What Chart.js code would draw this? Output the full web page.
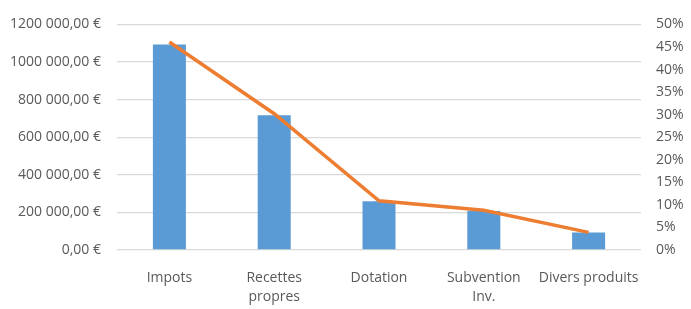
<!DOCTYPE html>
<html>
<head>
<meta charset="utf-8">
<script src="https://cdn.jsdelivr.net/npm/chart.js@4"></script>
<style>
  html, body { margin: 0; padding: 0; background: #fff; }
  #wrap { width: 691px; height: 309px; position: relative; }
</style>
</head>
<body>
<div id="wrap"><canvas id="c"></canvas></div>
<script>
// données
const categories = ['Impots', ['Recettes', 'propres'], 'Dotation', ['Subvention', 'Inv.'], 'Divers produits'];
const montants = [1093000, 717000, 259000, 207000, 93000];
const parts = [46.1, 30.2, 10.9, 8.8, 3.9];
const leftTicks = ['0,00 €', '200 000,00 €', '400 000,00 €', '600 000,00 €', '800 000,00 €', '1000 000,00 €', '1200 000,00 €'];
const rightTicks = ['0%', '5%', '10%', '15%', '20%', '25%', '30%', '35%', '40%', '45%', '50%'];

const grey = '#595959';
const font = { family: '"Open Sans", sans-serif', size: 14 };

new Chart(document.getElementById('c'), {
  data: {
    labels: categories,
    datasets: [
      {
        type: 'line',
        data: parts,
        yAxisID: 'y1',
        borderColor: '#ED7D31',
        borderWidth: 3.5,
        pointRadius: 0,
        tension: 0,
        order: 0
      },
      {
        type: 'bar',
        data: montants,
        yAxisID: 'y',
        backgroundColor: '#5B9BD5',
        categoryPercentage: 1,
        barPercentage: 0.315,
        order: 1
      }
    ]
  },
  options: {
    responsive: true,
    maintainAspectRatio: false,
    animation: false,
    layout: { padding: { top: 22, left: 0, right: 0, bottom: 0 } },
    plugins: { legend: { display: false }, tooltip: { enabled: false } },
    scales: {
      x: {
        grid: { display: false },
        border: { display: false },
        ticks: { color: grey, font: { ...font, lineHeight: 1.4 }, padding: 10, maxRotation: 0, autoSkip: false },
        afterFit: s => { s.height = 59; }
      },
      y: {
        position: 'left',
        min: 0, max: 1200000,
        grid: { color: '#d9d9d9', lineWidth: 1.3, drawTicks: false },
        border: { display: false },
        ticks: {
          stepSize: 200000, color: grey, font: font, padding: 16,
          callback: (v, i) => leftTicks[i]
        },
        afterFit: s => { s.width = 117; }
      },
      y1: {
        position: 'right',
        min: 0, max: 50,
        grid: { display: false, drawTicks: false },
        border: { display: false },
        ticks: {
          stepSize: 5, color: grey, font: font, padding: 15,
          callback: (v, i) => rightTicks[i]
        },
        afterFit: s => { s.width = 50; }
      }
    }
  }
});
</script>
</body>
</html>
